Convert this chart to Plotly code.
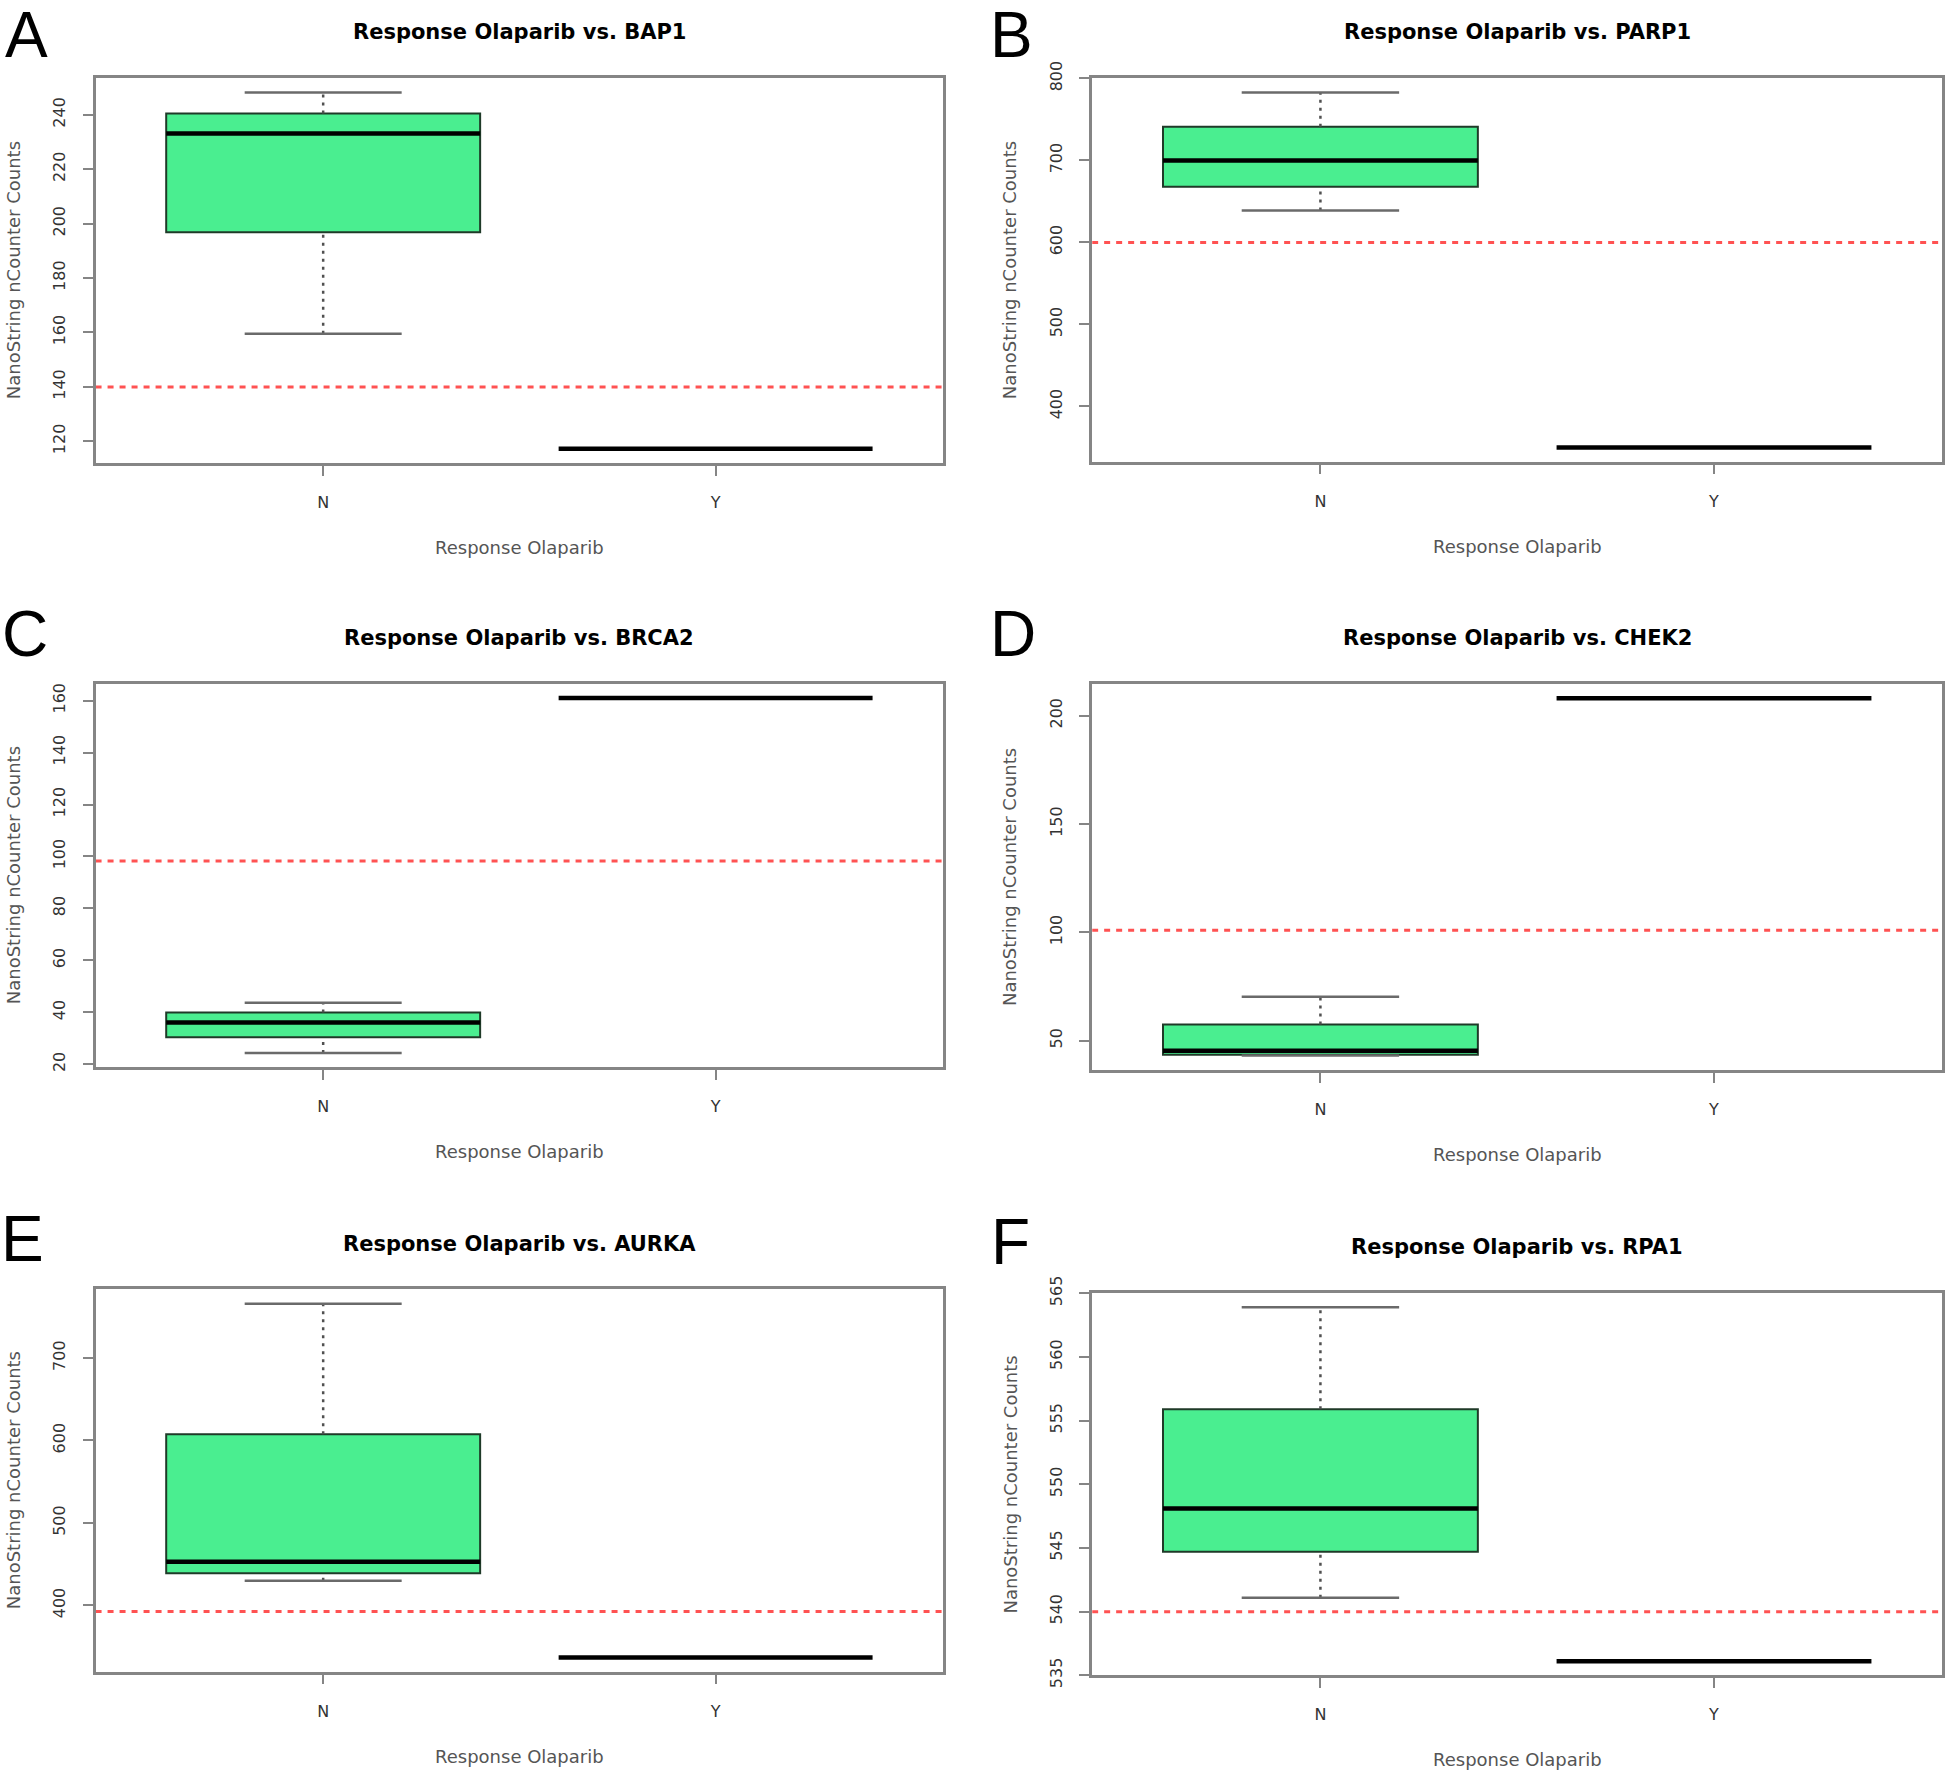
import plotly.graph_objects as go

# ---------------- data ----------------
genes = ["BAP1", "PARP1", "BRCA2", "CHEK2", "AURKA", "RPA1"]
panel_letters = ["A", "B", "C", "D", "E", "F"]
groups = ["N", "Y"]

# "N" group box statistics per gene
n_lower = [159.5, 639.0, 24.3, 43.2, 430.0, 541.1]
n_q1 = [196.8, 668.0, 30.4, 43.6, 439.0, 544.7]
n_median = [233.1, 700.0, 36.1, 45.4, 452.8, 548.1]
n_q3 = [240.5, 741.0, 39.9, 57.5, 607.5, 555.9]
n_upper = [248.2, 783.0, 43.7, 70.3, 766.0, 563.9]
# "Y" group (single responder value)
y_value = [117.3, 350.0, 161.0, 208.1, 336.7, 536.1]
# red dashed cut-off line
threshold = [140.0, 600.0, 98.3, 101.0, 392.5, 540.0]
# y tick spacing
y_dtick = [20, 100, 20, 50, 100, 5]

y_title = "NanoString nCounter Counts"
x_title = "Response Olaparib"

# ---------------- layout geometry ----------------
W, H = 1946, 1779
K = 1946 / 1568          # positions below were measured on a 1568-wide view


def fx(xp):
    return min(1.0, max(0.0, xp * K / W))


def fy(yp):
    return min(1.0, max(0.0, 1 - yp * K / H))


# plot frames (left, right, top, bottom) in the 1568-wide measurement units
frames = [
    (77, 760, 63, 373),
    (880, 1565, 63, 372),
    (77, 760, 551, 860),
    (880, 1565, 551, 862),
    (77, 760, 1039, 1347),
    (880, 1565, 1042, 1350),
]
letter_pos = [(21.5, 28.5), (815, 28.5), (20, 511), (816, 511), (18, 998.5), (814, 1000.5)]

box_fill = "#4AEE90"
box_line = "#1f3a28"
frame_col = "#858585"
whisk_col = "#505050"
cap_col = "#6a6a6a"
red_col = "#FF5252"
FONT = "DejaVu Sans, Verdana, sans-serif"

fig = go.Figure()
annotations = []
layout_axes = {}

XR = (0.42, 2.58)
HALF_BOX = 0.4
HALF_CAP = 0.2

for i in range(6):
    suf = "" if i == 0 else str(i + 1)
    xr, yr = "x" + suf, "y" + suf
    x0, x1, yt, yb = frames[i]

    vals = [n_lower[i], n_upper[i], y_value[i]]
    lo, hi = min(vals), max(vals)
    pad = 0.04 * (hi - lo)

    # N box (whiskers drawn separately to get the R style)
    fig.add_trace(go.Box(
        x=[1], q1=[n_q1[i]], median=[n_median[i]], q3=[n_q3[i]],
        lowerfence=[n_q1[i]], upperfence=[n_q3[i]],
        width=2 * HALF_BOX, whiskerwidth=0,
        fillcolor=box_fill, line=dict(color=box_line, width=2),
        xaxis=xr, yaxis=yr, showlegend=False, hoverinfo="skip"))

    # dotted whisker stems
    fig.add_trace(go.Scatter(
        x=[1, 1, None, 1, 1],
        y=[n_q3[i], n_upper[i], None, n_lower[i], n_q1[i]],
        mode="lines", line=dict(color=whisk_col, width=2.5, dash="3px,5px"),
        xaxis=xr, yaxis=yr, showlegend=False, hoverinfo="skip"))
    # whisker caps
    fig.add_trace(go.Scatter(
        x=[1 - HALF_CAP, 1 + HALF_CAP, None, 1 - HALF_CAP, 1 + HALF_CAP],
        y=[n_upper[i], n_upper[i], None, n_lower[i], n_lower[i]],
        mode="lines", line=dict(color=cap_col, width=2.5),
        xaxis=xr, yaxis=yr, showlegend=False, hoverinfo="skip"))
    # thick medians (N median and Y single value)
    fig.add_trace(go.Scatter(
        x=[1 - HALF_BOX, 1 + HALF_BOX, None, 2 - HALF_BOX, 2 + HALF_BOX],
        y=[n_median[i], n_median[i], None, y_value[i], y_value[i]],
        mode="lines", line=dict(color="black", width=4.5),
        xaxis=xr, yaxis=yr, showlegend=False, hoverinfo="skip"))
    # red dashed cut-off
    fig.add_trace(go.Scatter(
        x=[XR[0], XR[1]], y=[threshold[i], threshold[i]],
        mode="lines", line=dict(color=red_col, width=3, dash="6px,6px"),
        xaxis=xr, yaxis=yr, showlegend=False, hoverinfo="skip"))

    common = dict(showline=True, mirror=True, linecolor=frame_col, linewidth=2.5,
                  showgrid=False, zeroline=False, ticks="outside", ticklen=10,
                  tickwidth=1.5, tickcolor=frame_col, automargin=False,
                  tickfont=dict(family=FONT, size=16, color="#333333"))
    layout_axes["xaxis" + suf] = dict(
        domain=[fx(x0), fx(x1)], range=list(XR), tickvals=[1, 2], ticktext=groups,
        anchor=yr, ticklabelstandoff=13, **common)
    layout_axes["yaxis" + suf] = dict(
        domain=[fy(yb), fy(yt)], range=[lo - pad, hi + pad],
        dtick=y_dtick[i], tickangle=-90, anchor=xr, ticklabelstandoff=11, **common)

    cx = (x0 + x1) / 2
    cy = (yt + yb) / 2
    annotations.append(dict(
        text="<b>Response Olaparib vs. " + genes[i] + "</b>",
        x=fx(cx), y=fy(yt - 37), xref="paper", yref="paper",
        xanchor="center", yanchor="middle", showarrow=False,
        font=dict(family=FONT, size=21, color="black")))
    annotations.append(dict(
        text=x_title, x=fx(cx), y=fy(yb + 68), xref="paper", yref="paper",
        xanchor="center", yanchor="middle", showarrow=False,
        font=dict(family=FONT, size=18, color="#555555")))
    annotations.append(dict(
        text=y_title, x=fx(x0 - 66), y=fy(cy), xref="paper", yref="paper",
        xanchor="center", yanchor="middle", showarrow=False, textangle=-90,
        font=dict(family=FONT, size=18, color="#555555")))
    lx, ly = letter_pos[i]
    annotations.append(dict(
        text=panel_letters[i], x=fx(lx), y=fy(ly),
        xref="paper", yref="paper", xanchor="center", yanchor="middle",
        showarrow=False,
        font=dict(family="Liberation Sans, Arial, sans-serif", size=64, color="black")))

fig.update_layout(
    width=W, height=H, margin=dict(l=0, r=0, t=0, b=0, autoexpand=False),
    paper_bgcolor="white", plot_bgcolor="white",
    annotations=annotations, showlegend=False, **layout_axes)

fig.write_html("out.html", config={"displayModeBar": False},
               post_script="document.body.style.margin='0px';")
